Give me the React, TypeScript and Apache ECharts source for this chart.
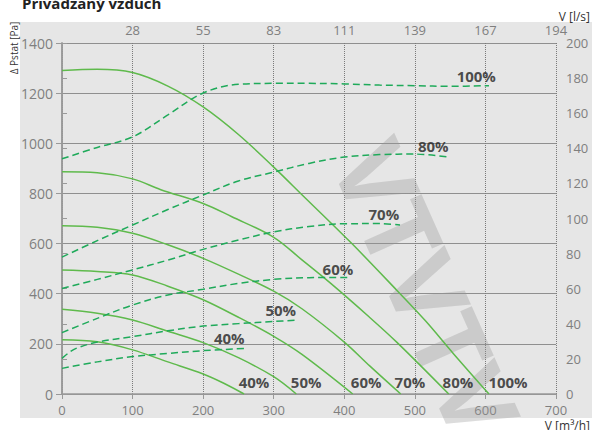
import React, { useEffect, useRef } from 'react';
import * as echarts from 'echarts';

// Top axis tick labels (l/s) for flow ticks 0..700 m3/h
const topTickLabels = ['', '28', '55', '83', '111', '139', '167', '194'];

// Pressure curves [flow m3/h, pressure Pa]
const pressure100: [number, number][] = [[0, 1290], [50, 1295], [100, 1282], [150, 1228], [200, 1145], [250, 1035], [300, 905], [340, 795], [410, 602], [475, 412], [515, 292], [555, 160], [605, 0]];
const pressure80: [number, number][] = [[0, 886], [50, 882], [100, 858], [140, 815], [200, 760], [240, 708], [300, 625], [340, 535], [380, 443], [435, 308], [475, 205], [548, 0]];
const pressure70: [number, number][] = [[0, 671], [50, 665], [100, 641], [150, 595], [200, 541], [250, 478], [300, 410], [340, 340], [400, 207], [436, 112], [480, 0]];
const pressure60: [number, number][] = [[0, 495], [50, 489], [100, 475], [150, 430], [200, 376], [250, 306], [300, 230], [340, 158], [412, 0]];
const pressure50: [number, number][] = [[0, 338], [50, 322], [100, 295], [150, 250], [200, 205], [250, 145], [300, 69], [332, 0]];
const pressure40: [number, number][] = [[0, 216], [50, 208], [100, 176], [150, 128], [200, 80], [230, 42], [258, 0]];

// Dashed curves on right axis [flow m3/h, right-axis value]
const dashed100: [number, number][] = [[0, 134], [50, 140.5], [100, 146.5], [150, 159], [200, 171.5], [250, 176.5], [300, 177], [350, 177], [400, 176.7], [450, 176], [500, 175.7], [550, 175.3], [605, 175.7]];
const dashed80: [number, number][] = [[0, 78], [50, 87.4], [100, 96.3], [150, 105.1], [200, 113.4], [250, 121.4], [300, 126.4], [350, 131.4], [400, 135], [450, 136.4], [500, 136.7], [547, 135]];
const dashed70: [number, number][] = [[0, 60.1], [50, 65.3], [100, 70.7], [150, 76.3], [200, 82.4], [250, 87.7], [300, 92.4], [350, 95.4], [400, 97], [450, 97.1], [479, 96.3]];
const dashed60: [number, number][] = [[0, 35], [50, 43.1], [100, 50.7], [150, 56.4], [200, 59.7], [250, 63], [300, 65.3], [350, 66.3], [410, 66.4]];
const dashed50: [number, number][] = [[0, 20.3], [10, 23.6], [20, 26], [50, 29.6], [100, 32.7], [150, 36], [200, 38.7], [250, 40.1], [300, 41.3], [332, 42.1]];
const dashed40: [number, number][] = [[0, 14.6], [50, 18.3], [100, 21.3], [150, 23.1], [200, 24.7], [262, 26]];

// Curve labels [flow, pressure, text]
const upperLabels: [number, number, string][] = [[587, 1268, '100%'], [526, 989, '80%'], [456, 718, '70%'], [391, 499, '60%'], [310, 335, '50%'], [237, 223, '40%']];
const lowerLabels: [number, number, string][] = [[272, 48, '40%'], [346, 48, '50%'], [431, 48, '60%'], [493, 48, '70%'], [561, 48, '80%'], [632, 48, '100%']];

const SOLID = '#5fba4c';
const DASHED = '#1faa5a';
const FONT = '"Open Sans", "Noto Sans", sans-serif';

export default function App() {
  const ref = useRef<HTMLDivElement>(null);
  useEffect(() => {
    if (!ref.current) return;
    const chart = echarts.init(ref.current, undefined, { renderer: 'svg' });
    const solidSeries = [pressure100, pressure80, pressure70, pressure60, pressure50, pressure40].map((d) => ({
      type: 'line', data: d, showSymbol: false, smooth: 0.35, xAxisIndex: 0, yAxisIndex: 0, z: 4,
      lineStyle: { color: SOLID, width: 1.5 },
    }));
    const dashedSeries = [dashed100, dashed80, dashed70, dashed60, dashed50, dashed40].map((d) => ({
      type: 'line', data: d, showSymbol: false, smooth: 0.35, xAxisIndex: 0, yAxisIndex: 1, z: 4,
      lineStyle: { color: DASHED, width: 1.5, type: [7, 4] },
    }));
    const labelSeries = {
      type: 'scatter', data: [...upperLabels, ...lowerLabels], symbolSize: 1, xAxisIndex: 0, yAxisIndex: 0, z: 5,
      itemStyle: { color: 'transparent' },
      label: {
        show: true, position: 'inside', formatter: (p: any) => p.value[2],
        fontFamily: FONT, fontWeight: 'bold', fontSize: 15, color: '#222',
      },
    };
    chart.setOption({
      animation: false,
      backgroundColor: '#ffffff',
      textStyle: { fontFamily: FONT },
      grid: { left: 62, right: 36, top: 43, bottom: 36 },
      graphic: [
        { type: 'rect', z: -100, shape: { x: 20, y: 22, width: 572, height: 396 }, style: { fill: '#e6e6e6' }, silent: true },
        { type: 'text', z: 1, x: 428, y: 288, rotation: -1.15,
          style: { text: 'VTVTV', font: `bold 100px ${FONT}`, fill: 'rgba(150,150,150,0.33)', align: 'center', verticalAlign: 'middle' } },
        { type: 'text', x: 22, y: 10, style: { text: 'Privádzaný vzduch', font: `bold 15px ${FONT}`, fill: '#222', verticalAlign: 'bottom' } },
        { type: 'text', x: 14, y: 48, rotation: Math.PI / 2,
          style: { text: 'Δ Pstat [Pa]', font: `10px ${FONT}`, fill: '#333', align: 'center', verticalAlign: 'middle' } },
        { type: 'text', x: 590, y: 16, style: { text: 'V [l/s]', font: `12px ${FONT}`, fill: '#333', align: 'right', verticalAlign: 'middle' } },
        { type: 'text', x: 590, y: 425, style: { text: 'V [m³/h]', font: `12px ${FONT}`, fill: '#333', align: 'right', verticalAlign: 'middle' } },
      ],
      xAxis: [
        {
          type: 'value', position: 'bottom', min: 0, max: 700, interval: 100,
          axisLine: { show: true, lineStyle: { color: '#999', width: 1.5 } },
          axisTick: { show: true, length: 5, lineStyle: { color: '#999' } },
          axisLabel: { fontSize: 13, color: '#7f7f7f', margin: 9, formatter: (v: number) => String(v) },
          splitLine: { show: true, lineStyle: { color: '#7a7a7a', type: 'dotted', width: 1 } },
        },
        {
          type: 'value', position: 'top', min: 0, max: 700, interval: 100,
          axisLine: { show: false }, axisTick: { show: false }, splitLine: { show: false },
          axisLabel: { fontSize: 13, color: '#7f7f7f', margin: 7, formatter: (v: number) => topTickLabels[Math.round(v / 100)] },
        },
      ],
      yAxis: [
        {
          type: 'value', position: 'left', min: 0, max: 1400, interval: 200,
          axisLine: { show: true, lineStyle: { color: '#999', width: 1.5 } },
          axisTick: { show: true, length: 6, lineStyle: { color: '#999' } },
          axisLabel: { fontSize: 14, color: '#7f7f7f', margin: 9, formatter: (v: number) => String(v) },
          splitLine: { show: true, lineStyle: { color: '#8f8f8f', width: 1 } },
        },
        {
          type: 'value', position: 'right', min: 0, max: 200, interval: 20,
          axisLine: { show: true, lineStyle: { color: '#999', width: 1.5 } },
          axisTick: { show: true, length: 5, lineStyle: { color: '#999' } },
          axisLabel: { fontSize: 13, color: '#7f7f7f', margin: 10, formatter: (v: number) => String(v) },
          splitLine: { show: false },
        },
      ],
      series: [...solidSeries, ...dashedSeries, labelSeries],
    });
    return () => chart.dispose();
  }, []);
  return <div ref={ref} style={{ position: 'fixed', left: 0, top: 0, width: 592, height: 430 }} />;
}
